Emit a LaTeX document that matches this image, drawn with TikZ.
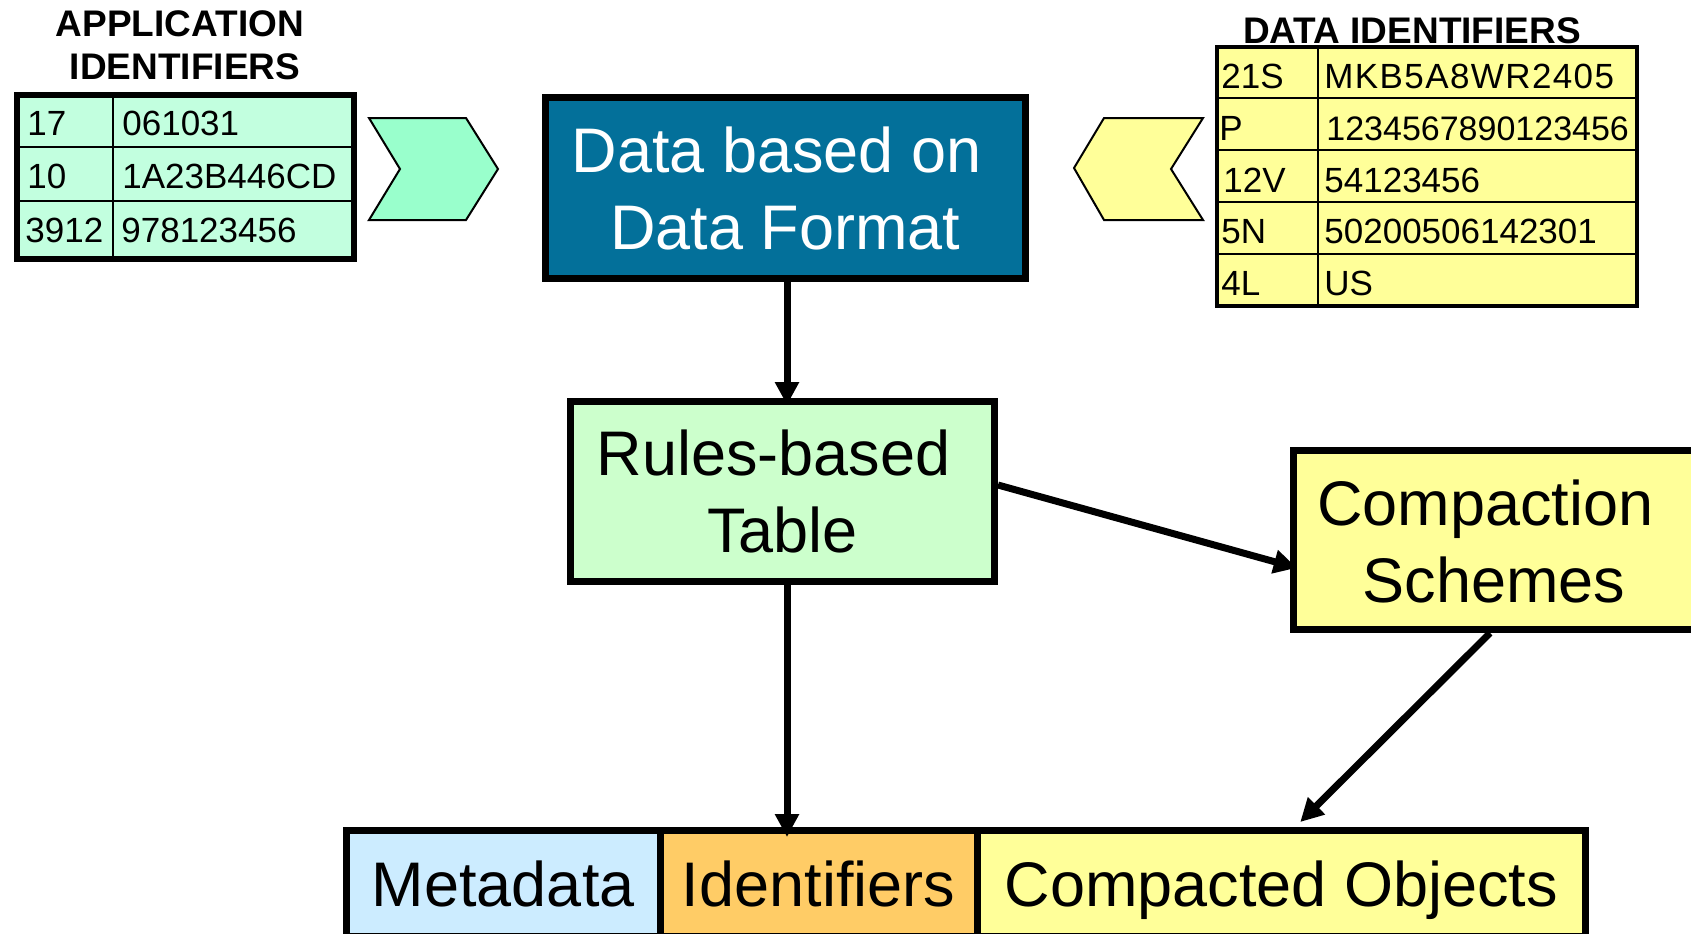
\documentclass[tikz,border=0pt]{standalone}
\usepackage{fontspec}
\setmainfont{Liberation Sans}
\usetikzlibrary{arrows.meta,calc}

\definecolor{dfblue}{HTML}{03709A}
\definecolor{rulegreen}{HTML}{CCFFCC}
\definecolor{tablemint}{HTML}{C2FFDF}
\definecolor{chevmint}{HTML}{99FFCC}
\definecolor{paleyellow}{HTML}{FFFF99}
\definecolor{metablue}{HTML}{CCECFF}
\definecolor{idorange}{HTML}{FFCC66}

\tikzset{
  bigbox/.style={draw=black, line width=3.5pt, inner sep=0pt, align=center,
    font=\fontsize{31.5pt}{38.5pt}\selectfont},
  barcell/.style={bigbox, minimum height=53pt, text height=22.5pt, text depth=0pt},
  flow/.style={line width=3.5pt, -{Triangle[length=11.5pt,width=11.5pt]}},
  celltext/.style={anchor=base west, inner sep=0pt, font=\fontsize{17.5pt}{21pt}\selectfont},
  widecell/.style={celltext, font=\fontsize{17.5pt}{21pt}\selectfont\addfontfeature{LetterSpace=4}},
  narrowcell/.style={celltext, font=\fontsize{17pt}{21pt}\selectfont},
  heading/.style={inner sep=0pt, align=center, font=\fontsize{18.5pt}{21.5pt}\selectfont\bfseries},
  tableframe/.style={draw=black},
  tablerule/.style={draw=black, line width=1pt},
  chevron/.style={draw=black, line width=1pt, line join=miter}
}

\begin{document}
\begin{tikzpicture}[x=0.5pt, y=-0.5pt]
\useasboundingbox (0,0) rectangle (1691,933);
\clip (0,0) rectangle (1691,933);

% ---------- application identifiers table ----------
\node[heading] (apptitle) at (185,45.25) {APPLICATION\hspace*{.278em}\\IDENTIFIERS};
\draw[tableframe, fill=tablemint, line width=3pt] (17,95) rectangle (354,259);
\draw[tablerule] (113,95) -- (113,259);
\draw[tablerule] (17,147) -- (354,147);
\draw[tablerule] (17,201) -- (354,201);
\node[celltext] (ai1k) at (27,135) {17};
\node[celltext] (ai1v) at (122,135) {061031};
\node[celltext] (ai2k) at (27,188) {10};
\node[celltext] (ai2v) at (122,188) {1A23B446CD};
\node[celltext] (ai3k) at (25,242) {3912};
\node[celltext] (ai3v) at (121,242) {978123456};

% chevron pointing right
\draw[chevron, fill=chevmint] (369,118) -- (466,118) -- (498,169) -- (466,220)
  -- (369,220) -- (400,169) -- cycle;

% ---------- data identifiers table ----------
\node[heading, anchor=base] (dititle) at (1412,43) {DATA IDENTIFIERS};
\draw[tableframe, fill=paleyellow, line width=2pt] (1217,47) rectangle (1637,306);
\draw[tablerule] (1318,47) -- (1318,306);
\foreach \yy in {98,150,202,254}
  \draw[tablerule] (1217,\yy) -- (1637,\yy);
\node[celltext] (di1k) at (1221,88) {21S};
\node[widecell] (di1v) at (1324,88) {MKB5A8WR2405};
\node[celltext] (di2k) at (1219,140) {P};
\node[narrowcell] (di2v) at (1326,140) {1234567890123456};
\node[celltext] (di3k) at (1223,192) {12V};
\node[celltext] (di3v) at (1324,192) {54123456};
\node[celltext] (di4k) at (1221,243) {5N};
\node[celltext] (di4v) at (1324,243) {50200506142301};
\node[celltext] (di5k) at (1221,295) {4L};
\node[celltext] (di5v) at (1324,295) {US};

% chevron pointing left
\draw[chevron, fill=paleyellow] (1104,118) -- (1203,118) -- (1171,169) -- (1203,220)
  -- (1104,220) -- (1074,168) -- cycle;

% ---------- main flow ----------
\node[bigbox, fill=dfblue, text=white, minimum width=240pt, minimum height=90.5pt]
  (data) at (785.5,188) {Data based on\hspace*{.278em}\\Data Format};
\node[bigbox, fill=rulegreen, minimum width=212pt, minimum height=90pt]
  (rules) at (782.5,491.5) {Rules-based\hspace*{.278em}\\Table};
\node[bigbox, fill=paleyellow, minimum width=211.5pt, minimum height=89.5pt]
  (compact) at (1505,540) {};
\node[inner sep=0pt, align=center, font=\fontsize{31.5pt}{38.5pt}\selectfont]
  (compactlabel) at (1494,541) {Compaction\hspace*{.278em}\\Schemes};

% ---------- result record ----------
\node[barcell, fill=metablue, minimum width=156.75pt] (metadata) at (503.25,883.5) {Metadata};
\node[barcell, fill=idorange, minimum width=158.5pt] (identifiers) at (818.5,883.5) {Identifiers};
\node[barcell, fill=paleyellow, minimum width=304.25pt] (objects) at (1281.25,883.5) {Compacted Objects};

% ---------- connectors ----------
\coordinate (spine) at (787,0);
\coordinate (schemefoot) at (1490,0);
\draw[flow, shorten >=-3.5pt] (data.south -| spine) -- (rules.north -| spine);
\draw[flow, shorten >=-5pt] (rules.south -| spine) -- (identifiers.north -| spine);
\draw[flow, shorten >=-3.5pt] ([yshift=3.25pt]rules.east) -- ([yshift=-13pt]compact.west);
\draw[flow] (compact.south -| schemefoot) -- ([xshift=9.5pt,yshift=2.5pt]objects.north);
\end{tikzpicture}
\end{document}
